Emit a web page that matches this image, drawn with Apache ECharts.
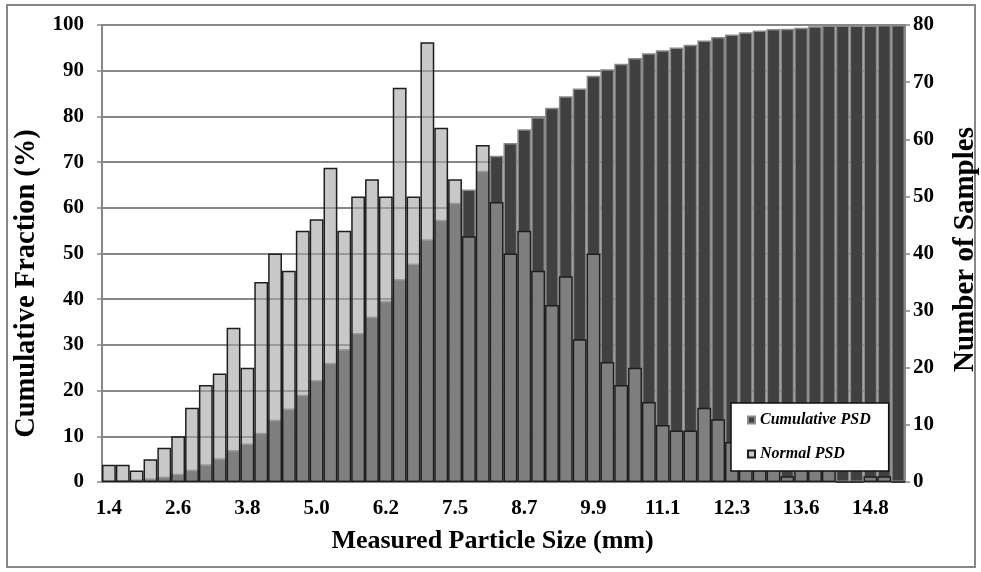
<!DOCTYPE html>
<html>
<head>
<meta charset="utf-8">
<script src="https://cdn.jsdelivr.net/npm/echarts@6/dist/echarts.min.js"></script>
<style>
  html, body { margin: 0; padding: 0; background: #fff; }
  #chart { width: 981px; height: 572px; }
</style>
</head>
<body>
<div id="chart"></div>
<script>
// Particle size classes (mm), one per bar
const sizeClasses = [
  '1.4','1.6','1.9','2.1','2.3','2.6','2.8','3.1','3.3','3.6',
  '3.8','4.1','4.3','4.5','4.8','5.0','5.3','5.5','5.8','6.0',
  '6.2','6.5','6.7','7.0','7.2','7.5','7.7','7.9','8.2','8.4',
  '8.7','8.9','9.2','9.4','9.7','9.9','10.1','10.4','10.6','10.9',
  '11.1','11.4','11.6','11.8','12.1','12.3','12.6','12.8','13.1','13.3',
  '13.6','13.8','14.0','14.3','14.5','14.8','15.0','15.3'
];

// Cumulative fraction passing (%)
const cumulativePSD = [
  0.2, 0.4, 0.6, 0.8, 1.2, 1.8, 2.7, 3.9, 5.2, 7.0,
  8.4, 10.8, 13.6, 16.1, 19.1, 22.3, 26.1, 29.1, 32.6, 36.2,
  39.6, 44.4, 47.8, 53.1, 57.4, 61.1, 64.0, 68.1, 71.4, 74.2,
  77.2, 79.8, 81.9, 84.4, 86.1, 88.9, 90.3, 91.5, 92.8, 93.8,
  94.5, 95.1, 95.7, 96.6, 97.4, 97.9, 98.4, 98.8, 99.1, 99.2,
  99.4, 99.7, 99.9, 99.9, 99.9, 99.9, 100, 100
];

// Number of samples in each size class
const normalPSD = [
  3, 3, 2, 4, 6, 8, 13, 17, 19, 27,
  20, 35, 40, 37, 44, 46, 55, 44, 50, 53,
  50, 69, 50, 77, 62, 53, 43, 59, 49, 40,
  44, 37, 31, 36, 25, 40, 21, 17, 20, 14,
  10, 9, 9, 13, 11, 7, 8, 6, 4, 1,
  3, 4, 3, 0, 0, 1, 1, 0
];

const FONT = '"Liberation Serif", "Times New Roman", serif';
const AXIS_GRAY = '#878787';

const chart = echarts.init(document.getElementById('chart'), null, { renderer: 'canvas' });

chart.setOption({
  animation: false,
  backgroundColor: '#ffffff',
  textStyle: { fontFamily: FONT },
  graphic: [{
    type: 'rect',
    shape: { x: 7, y: 5, width: 968, height: 562 },
    style: { fill: 'none', stroke: AXIS_GRAY, lineWidth: 2 },
    silent: true,
    z: -1
  }],
  grid: { left: 102, right: 76, top: 25, bottom: 90, containLabel: false, outerBoundsMode: 'none' },
  legend: {
    orient: 'vertical',
    left: 731,
    top: 403,
    backgroundColor: '#ffffff',
    borderColor: '#111',
    borderWidth: 1.5,
    borderRadius: 0,
    padding: [9, 18, 9, 16],
    itemGap: 18,
    itemWidth: 7,
    itemHeight: 7,
    icon: 'rect',
    textStyle: {
      fontFamily: FONT, fontSize: 16, fontWeight: 'bold', fontStyle: 'italic',
      color: '#000', lineHeight: 16
    },
    data: ['Cumulative PSD', 'Normal PSD']
  },
  xAxis: {
    type: 'category',
    data: sizeClasses,
    boundaryGap: true,
    name: 'Measured Particle Size (mm)',
    nameLocation: 'middle',
    nameGap: 46,
    nameTextStyle: {
      fontFamily: FONT, fontSize: 26, fontWeight: 'bold', color: '#000',
      padding: [0, 22, 0, 0]
    },
    axisLine: { lineStyle: { color: AXIS_GRAY, width: 2 } },
    axisTick: { interval: 0, length: 5, lineStyle: { color: AXIS_GRAY, width: 1.5 } },
    axisLabel: { interval: 4, fontFamily: FONT, fontSize: 21, fontWeight: 'bold', color: '#000', margin: 16 },
    splitLine: { show: false }
  },
  yAxis: [{
    type: 'value',
    position: 'left',
    min: 0, max: 100, interval: 10,
    name: 'Cumulative Fraction (%)',
    nameLocation: 'middle',
    nameRotate: 90,
    nameGap: 55,
    nameTextStyle: {
      fontFamily: FONT, fontSize: 28.5, fontWeight: 'bold', color: '#000',
      padding: [0, 60, 0, 0]
    },
    axisLine: { show: true, lineStyle: { color: AXIS_GRAY, width: 2 } },
    axisTick: { show: true, length: 5, lineStyle: { color: AXIS_GRAY, width: 1.5 } },
    axisLabel: { fontFamily: FONT, fontSize: 21, fontWeight: 'bold', color: '#000', margin: 18 },
    splitLine: { show: true, lineStyle: { color: AXIS_GRAY, width: 2 } }
  }, {
    type: 'value',
    position: 'right',
    min: 0, max: 80, interval: 10,
    name: 'Number of Samples',
    nameLocation: 'middle',
    nameRotate: 90,
    nameGap: 46,
    nameTextStyle: {
      fontFamily: FONT, fontSize: 29, fontWeight: 'bold', color: '#000',
      padding: [0, 0, 0, 8]
    },
    axisLine: { show: true, lineStyle: { color: AXIS_GRAY, width: 2 } },
    axisTick: { show: true, length: 5, lineStyle: { color: AXIS_GRAY, width: 1.5 } },
    axisLabel: { fontFamily: FONT, fontSize: 21, fontWeight: 'bold', color: '#000', margin: 8 },
    splitLine: { show: false }
  }],
  series: [{
    name: 'Cumulative PSD',
    type: 'bar',
    yAxisIndex: 0,
    data: cumulativePSD,
    barGap: '-100%',
    barCategoryGap: 0,
    itemStyle: { color: '#404040', borderColor: '#8a8a8a', borderWidth: 1.5 }
  }, {
    name: 'Normal PSD',
    type: 'bar',
    yAxisIndex: 1,
    data: normalPSD,
    barGap: '-100%',
    barCategoryGap: 0,
    itemStyle: { color: 'rgba(167,167,167,0.62)', borderColor: '#1e1e1e', borderWidth: 1.5 }
  }]
});
</script>
</body>
</html>
